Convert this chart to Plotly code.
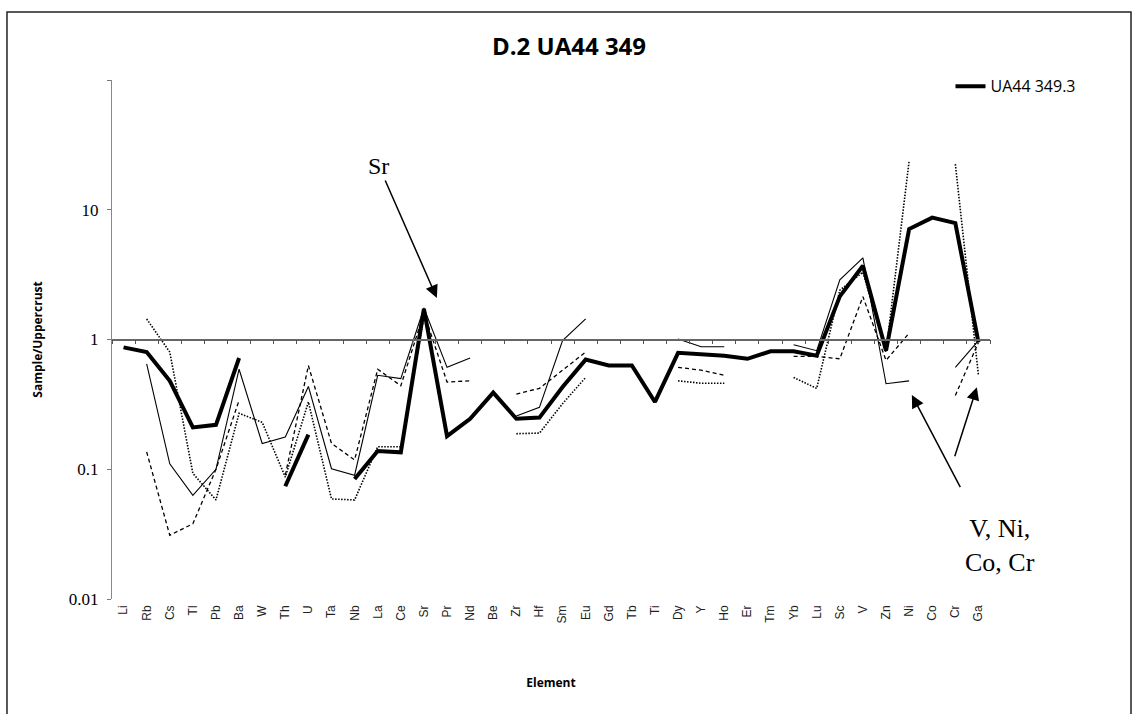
import numpy as np
import plotly.graph_objects as go

elements = ["Li", "Rb", "Cs", "Tl", "Pb", "Ba", "W", "Th", "U", "Ta", "Nb", "La", "Ce", "Sr",
            "Pr", "Nd", "Be", "Zr", "Hf", "Sm", "Eu", "Gd", "Tb", "Ti", "Dy", "Y", "Ho", "Er",
            "Tm", "Yb", "Lu", "Sc", "V", "Zn", "Ni", "Co", "Cr", "Ga"]

N = None
# UA44 349.3 (thick line)
s_3 = [0.87, 0.80, 0.48, 0.21, 0.22, 0.72, N, 0.074, 0.185, N, 0.084, 0.138, 0.135, 1.72,
       0.18, 0.245, 0.39, 0.245, 0.25, 0.43, 0.70, 0.63, 0.63, 0.33, 0.79, 0.77, 0.75, 0.71,
       0.81, 0.81, 0.75, 2.15, 3.7, 0.82, 7.1, 8.7, 7.9, 0.95]
# other samples (thin solid, dashed, dotted)
s_thin = [N, 0.65, 0.11, 0.063, 0.10, 0.59, 0.158, 0.177, 0.435, 0.101, 0.09, 0.53, 0.50, 1.75,
          0.61, 0.72, N, 0.257, 0.30, 0.98, 1.44, N, N, N, 1.01, 0.88, 0.88, N,
          N, 0.91, 0.82, 2.88, 4.25, 0.456, 0.48, N, 0.61, 0.98]
s_dash = [N, 0.136, 0.031, 0.038, 0.10, 0.34, N, 0.09, 0.63, 0.158, 0.118, 0.59, 0.44, 1.6,
          0.47, 0.48, N, 0.38, 0.42, 0.58, 0.80, N, N, N, 0.61, 0.58, 0.53, N,
          N, 0.74, 0.74, 0.71, 2.14, 0.69, 1.12, N, 0.37, 0.95]
s_dot = [N, 1.44, 0.80, 0.093, 0.058, 0.27, 0.23, 0.087, 0.33, 0.059, 0.058, 0.149, 0.149, 1.5,
         N, N, N, 0.188, 0.19, 0.32, 0.51, N, N, N, 0.48, 0.46, 0.46, N,
         N, 0.51, 0.42, 2.4, 3.3, 0.80, 23.8, N, 22.5, 0.53]

n = len(elements)
fig = go.Figure()
# reference level (x axis crossing at 1) carried by an invisible trace on the overlay axis
fig.add_trace(go.Scatter(x=[-0.5, n - 0.5], y=[1, 1], xaxis="x2", mode="lines", opacity=0,
                         showlegend=False, hoverinfo="skip", line=dict(width=1)))
fig.add_trace(go.Scatter(x=elements, y=s_thin, mode="lines", showlegend=False,
                         line=dict(color="black", width=1.1)))
fig.add_trace(go.Scatter(x=elements, y=s_dash, mode="lines", showlegend=False,
                         line=dict(color="black", width=1.3, dash="4px,3px")))
fig.add_trace(go.Scatter(x=elements, y=s_dot, mode="lines", showlegend=False,
                         line=dict(color="black", width=1.6, dash="1.5px,1.5px")))
fig.add_trace(go.Scatter(x=elements, y=s_3, mode="lines", name="UA44 349.3",
                         line=dict(color="black", width=4)))

fig.update_layout(
    width=1138, height=714,
    margin=dict(l=112, r=148, t=80, b=115),
    paper_bgcolor="white", plot_bgcolor="white",
    title=dict(text="<b>D.2 UA44 349</b>", x=0.5, xanchor="center", y=0.935, yanchor="middle",
               font=dict(family="Open Sans", size=24, color="black")),
    xaxis=dict(type="category", categoryorder="array", categoryarray=elements,
               range=[-0.5, n - 0.5], tickangle=-90, showline=False, ticks="",
               showgrid=False, zeroline=False, ticklabelstandoff=3,
               tickfont=dict(family="Liberation Sans", size=12, color="#222"),
               title=dict(text="<b>Element</b>", standoff=56,
                          font=dict(family="Open Sans", size=12, color="black"))),
    xaxis2=dict(overlaying="x", anchor="free", position=0.5, range=[-0.5, n - 0.5],
                tickvals=list(np.arange(-0.5, n, 1.0)), showticklabels=False,
                ticks="outside", ticklen=4, tickcolor="#555", showline=True,
                linecolor="#666", linewidth=1.5, showgrid=False, zeroline=False),
    yaxis=dict(type="log", range=[-2, 2], tickvals=[0.01, 0.1, 1, 10, 100],
               ticktext=["0.01", "0.1", "1", "10", ""], ticks="outside", ticklen=4,
               tickcolor="#777", showline=True, linecolor="#888", linewidth=1,
               showgrid=False, zeroline=False, ticklabelstandoff=5,
               tickfont=dict(family="Liberation Serif", size=17, color="black"),
               title=dict(text="<b>Sample/Uppercrust</b>", standoff=23,
                          font=dict(family="Open Sans", size=12, color="black"))),
    legend=dict(x=0.955, y=0.988, xanchor="left", yanchor="middle", bgcolor="rgba(0,0,0,0)",
                font=dict(family="Open Sans", size=16, color="black"), itemwidth=30),
    showlegend=True,
)

fig.add_shape(type="rect", xref="paper", yref="paper", x0=-0.1196, x1=1.1606, y0=-0.24, y1=1.131,
              line=dict(color="#222", width=1.5), fillcolor="rgba(0,0,0,0)", layer="below")

fig.add_annotation(xref="paper", yref="paper", x=0.370, y=0.580, ax=-58, ay=-132,
                   text="Sr", showarrow=True, arrowhead=2, arrowsize=1.7, arrowwidth=1.5,
                   arrowcolor="black", font=dict(family="Liberation Serif", size=24, color="black"))
fig.add_annotation(xref="paper", yref="paper", x=1.011, y=0.104, xanchor="center", yanchor="middle",
                   text="V, Ni,<br>Co, Cr", showarrow=False,
                   font=dict(family="Liberation Serif", size=26, color="black"))
fig.add_annotation(xref="paper", yref="paper", x=0.911, y=0.393, ax=50, ay=95, text=" ",
                   showarrow=True, arrowhead=2, arrowsize=1.7, arrowwidth=1.5, arrowcolor="black",
                   font=dict(size=2))
fig.add_annotation(xref="paper", yref="paper", x=0.985, y=0.408, ax=-23, ay=72, text=" ",
                   showarrow=True, arrowhead=2, arrowsize=1.7, arrowwidth=1.5, arrowcolor="black",
                   font=dict(size=2))

fig.write_html("out.html")
